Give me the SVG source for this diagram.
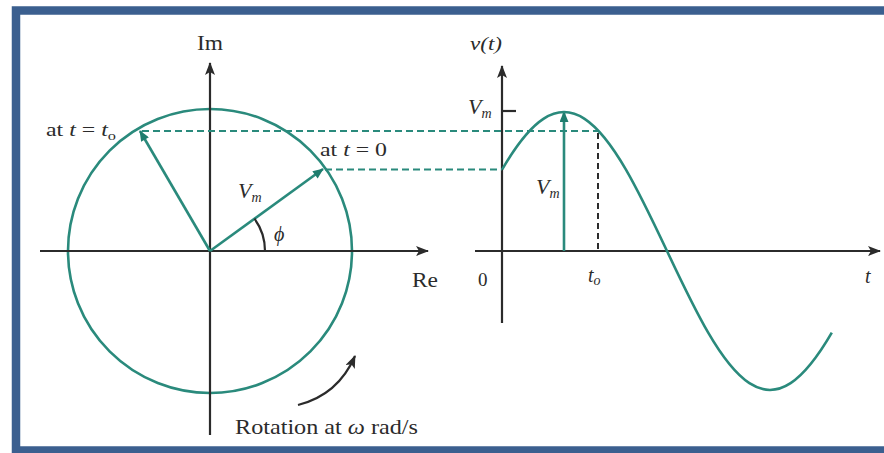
<svg xmlns="http://www.w3.org/2000/svg" width="884" height="453" viewBox="0 0 884 453">
<style>
.ax{stroke:#2b2b2b;stroke-width:2.2;fill:none}
.tl{stroke:#2a8a7c;stroke-width:2.6;fill:none}
.dt{stroke:#2a8a7c;stroke-width:1.9;stroke-dasharray:7 4;fill:none}
.dk{stroke:#222;stroke-width:1.9;stroke-dasharray:6 4;fill:none}
.it{font-style:italic}
</style>
<defs>
<marker id="ka" viewBox="0 0 13 10" refX="12" refY="5" markerWidth="13" markerHeight="10" markerUnits="userSpaceOnUse" orient="auto"><path d="M0,0 L13,5 L0,10 L3,5 Z" fill="#2b2b2b"/></marker>
<marker id="ga" viewBox="0 0 12 10" refX="11" refY="5" markerWidth="12" markerHeight="9" markerUnits="userSpaceOnUse" orient="auto"><path d="M0,0 L12,5 L0,10 Z" fill="#1f7d6e"/></marker>
</defs>
<rect x="0" y="0" width="884" height="453" fill="#fff"/>
<rect x="16" y="10.5" width="900" height="440" fill="none" stroke="#3b5f8f" stroke-width="8.5"/>

<g id="phasor-circle">
<circle cx="210" cy="251" r="142" class="tl"/>
</g>

<g id="connectors">
<line x1="40" y1="251" x2="428" y2="251" class="ax" marker-end="url(#ka)"/>
<line x1="210" y1="435" x2="210" y2="63" class="ax" marker-end="url(#ka)"/>
<line x1="475" y1="251" x2="880" y2="251" class="ax" marker-end="url(#ka)"/>
<line x1="502" y1="323" x2="502" y2="66" class="ax" marker-end="url(#ka)"/>
<line x1="502" y1="111" x2="516" y2="111" class="ax"/>
<line x1="210" y1="251" x2="323" y2="169" class="tl" stroke-width="2.2" marker-end="url(#ga)"/>
<line x1="210" y1="251" x2="140" y2="131" class="tl" stroke-width="2.2" marker-end="url(#ga)"/>
<line x1="564" y1="251" x2="564" y2="112" class="tl" stroke-width="2.2" marker-end="url(#ga)"/>
<line x1="142" y1="131" x2="598" y2="131" class="dt"/>
<line x1="325" y1="169.5" x2="502" y2="169.5" class="dt"/>
<line x1="598" y1="133" x2="598" y2="251" class="dk"/>
<path d="M265,251 A55,55 0 0 0 254.5,218.7" class="ax" stroke-width="1.5"/>
<path d="M298,405 Q338,395 355,356" class="ax" marker-end="url(#ka)"/>
</g>

<g id="sine-wave">
<path class="tl" d="M502.2,169.3 C515.9,145.75 529.7,127.8 543.4,118.8 C557.1,109.8 570.9,109.8 584.6,118.8 C598.3,127.8 612.1,145.75 625.8,169.3 C639.5,192.85 653.3,221.9 667,251 C680.7,280.1 694.5,309.15 708.2,332.7 C721.9,356.25 735.7,374.2 749.4,383.2 C763.1,392.2 776.9,392.2 790.6,383.2 C804.3,374.2 818.1,356.25 831.8,332.7"/>
</g>

<g id="labels" font-family="'Liberation Serif', 'DejaVu Serif', serif" fill="#2b2b2b">
<text x="197" y="50" font-size="20" textLength="26" lengthAdjust="spacingAndGlyphs">Im</text>
<text x="412" y="287" font-size="20" textLength="26" lengthAdjust="spacingAndGlyphs">Re</text>
<text x="46" y="136" font-size="19" textLength="70" lengthAdjust="spacingAndGlyphs">at <tspan class="it">t</tspan> = <tspan class="it">t</tspan><tspan font-size="13" dy="4">o</tspan></text>
<text x="320" y="156" font-size="19" textLength="67" lengthAdjust="spacingAndGlyphs">at <tspan class="it">t</tspan> = 0</text>
<text x="238" y="198" font-size="22" class="it">V<tspan font-size="14" dy="4">m</tspan></text>
<text x="274" y="241" font-size="20" class="it">ϕ</text>
<text x="470" y="50" font-size="18" class="it" textLength="32" lengthAdjust="spacingAndGlyphs">v(t)</text>
<text x="468" y="114" font-size="22" class="it">V<tspan font-size="14" dy="4">m</tspan></text>
<text x="536" y="194" font-size="22" class="it">V<tspan font-size="14" dy="4">m</tspan></text>
<text x="478" y="286" font-size="19">0</text>
<text x="588" y="282" font-size="20" class="it">t<tspan font-size="14" dy="3">o</tspan></text>
<text x="865" y="283" font-size="20" class="it">t</text>
<text x="235" y="434" font-size="21" textLength="183" lengthAdjust="spacingAndGlyphs">Rotation at <tspan class="it">ω</tspan> rad/s</text>
</g>
</svg>
